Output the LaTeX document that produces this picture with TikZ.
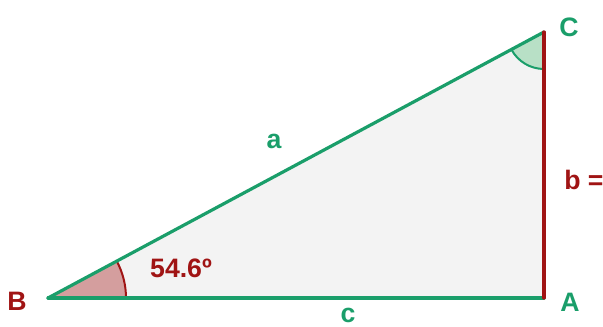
\documentclass[tikz,border=0pt]{standalone}
\usepackage{fontspec}
\setmainfont{Liberation Sans}
\definecolor{gr}{RGB}{26,158,106}
\definecolor{rd}{RGB}{160,20,20}
\definecolor{bgfill}{RGB}{243,243,243}
\definecolor{angB}{RGB}{212,158,158}
\definecolor{angC}{RGB}{184,224,198}
\begin{document}
\begin{tikzpicture}[x=0.75pt,y=-0.75pt,
  lbl/.style={font=\fontsize{20}{24}\selectfont\bfseries, inner sep=0pt},
  glbl/.style={lbl, text=gr},
  rlbl/.style={lbl, text=rd},
  side/.style={line width=2.4pt, line cap=round}]
\useasboundingbox (0,0) rectangle (603,327);
\clip (0,0) rectangle (603,327);
\coordinate (B) at (48,298);
\coordinate (A) at (544,298);
\coordinate (C) at (544,32);
\fill[bgfill] (B) -- (A) -- (C) -- cycle;
% angle at B
\fill[angB] (B) -- ++(78,0) arc[start angle=0, end angle=28.2, x radius=78, y radius=-78] -- cycle;
\draw[rd, line width=1.5pt] (B) ++(78,0) arc[start angle=0, end angle=28.2, x radius=78, y radius=-78];
% angle at C
\fill[angC] (C) -- ++(0,37) arc[start angle=270, end angle=208.2, x radius=37, y radius=-37] -- cycle;
\draw[gr, line width=1.5pt] (C) ++(0,37) arc[start angle=270, end angle=208.2, x radius=37, y radius=-37];
\draw[side, gr] (B) -- (A);
\draw[side, gr] (B) -- (C);
\draw[side, rd] (A) -- (C);
\node[rlbl] (lB) at (17,301) {B};
\node[glbl] (lA) at (570,302) {A};
\node[glbl] (lC) at (569,27) {C};
\node[glbl] (la) at (274,141) {a};
\node[glbl] (lc) at (348,315) {c};
\node[rlbl] (lang) at (181,268) {54.6º};
\node[rlbl, anchor=west] (lb) at (564,180) {b = };
\end{tikzpicture}
\end{document}
